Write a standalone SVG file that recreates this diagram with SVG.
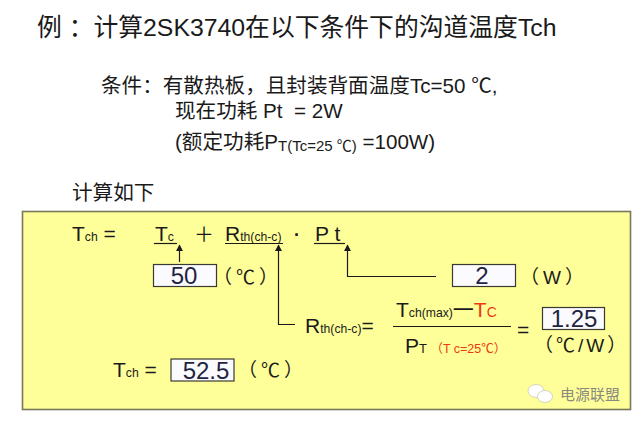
<svg xmlns="http://www.w3.org/2000/svg" width="640" height="422" viewBox="0 0 640 422">
<defs>
<style>
text{font-family:"Liberation Sans","Noto Sans CJK SC",sans-serif;fill:#1a1a1a;white-space:pre}
.t{font-size:24.8px}.c{font-size:20.6px}.f{font-size:21px}.s{font-size:12.2px}.n{font-size:24px;fill:#1f2440}.u{font-size:19px;letter-spacing:4px}
.r{fill:#ee3a12}
.box{fill:#fbfbff;stroke:#3a3a30;stroke-width:1.2}
.ln{fill:none;stroke:#1a1a1a;stroke-width:1.2}
</style>
<marker id="a" markerWidth="7" markerHeight="8" refX="6" refY="4" orient="auto" markerUnits="userSpaceOnUse"><path d="M0 0.5L6.5 4L0 7.5z" fill="#1a1a1a"/></marker>
</defs>
<rect width="640" height="422" fill="#fff"/>
<g id="title"><text class="t" x="37" y="36">例 ：计算2SK3740在以下条件下的沟道温度Tch</text></g>
<g id="conditions">
<text class="c" x="101" y="93">条件：有散热板，且封装背面温度Tc=50 ℃,</text>
<text class="c" x="175" y="117.500">现在功耗 Pt  = 2W</text>
<text class="c" x="175" y="149">(额定功耗P<tspan font-size="15" dy="2">T(Tc=25 ℃)</tspan><tspan dy="-2"> =100W)</tspan></text>
</g>
<g id="calc-heading"><text class="c" x="72" y="200">计算如下</text></g>
<g id="panel"><rect x="22.500" y="211.500" width="608" height="198" fill="#ffff99" stroke="#77775a" stroke-width="1.6"/></g>
<g id="formula-tch"><text class="f" x="72" y="240.500">T<tspan class="s">ch</tspan> =</text></g>
<g id="term-tc"><text class="f" x="155" y="240.500">T<tspan class="s">c</tspan></text></g>
<g id="plus"><text x="194" y="241.500" font-size="20">＋</text></g>
<g id="term-rth"><text class="f" x="225" y="240.500">R<tspan class="s">th(ch-c)</tspan></text></g>
<g id="dot"><text x="294" y="241" font-size="18" font-weight="bold">·</text></g>
<g id="term-pt"><text class="f" x="315" y="240.500">P t</text></g>
<g id="val-50"><rect class="box" x="153.500" y="264.500" width="63" height="22"/><text class="n" x="184" y="284" text-anchor="middle">50</text><text class="u" x="213" y="284">（℃）</text></g>
<g id="val-2"><rect class="box" x="452.500" y="264.500" width="63" height="22"/><text class="n" x="482" y="284" text-anchor="middle">2</text><text class="u" x="520" y="284">（W）</text></g>
<g id="rth-label"><text class="f" x="305" y="333">R<tspan class="s">th(ch-c)</tspan>=</text></g>
<g id="fraction">
<text class="f" x="396" y="317">T<tspan class="s">ch(max)</tspan>一<tspan class="r">T</tspan><tspan class="r" font-size="14">C</tspan></text>
<line class="ln" x1="393" y1="326.500" x2="511" y2="326.500"/>
<text class="f" x="405" y="353">P<tspan font-size="13">T</tspan><tspan class="r" font-size="12.500"> （T c=25℃）</tspan></text>
</g>
<g id="eq"><text class="f" x="517" y="337">=</text></g>
<g id="val-125"><rect class="box" x="542.500" y="307.500" width="62" height="22"/><text class="n" x="574" y="327" text-anchor="middle">1.25</text><text class="u" x="534" y="352" style="letter-spacing:3px">（℃/W）</text></g>
<g id="result"><text class="f" x="113" y="377">T<tspan class="s">ch</tspan> =</text><rect class="box" x="171" y="359" width="63" height="22"/><text class="n" x="206" y="379" text-anchor="middle">52.5</text><text class="u" x="238" y="377">（℃）</text></g>
<g id="connectors">
<line class="ln" x1="154" y1="243.500" x2="177" y2="243.500"/>
<line class="ln" x1="225" y1="243.500" x2="283" y2="243.500"/>
<line class="ln" x1="314" y1="243.500" x2="345" y2="243.500"/>
<path class="ln" d="M179.500 262V245" marker-end="url(#a)"/>
<path class="ln" d="M295 324.500H278.500V245" marker-end="url(#a)"/>
<path class="ln" d="M436 276.500H347.500V245" marker-end="url(#a)"/>
</g>
<g id="watermark">
<ellipse cx="536" cy="391" rx="8" ry="6.500" fill="#fff" stroke="#c8c8b8" stroke-width=".8"/>
<ellipse cx="545" cy="396.500" rx="7.500" ry="6" fill="#fff" stroke="#c8c8b8" stroke-width=".8"/>
<text x="560" y="400" font-size="15" style="fill:#8a8a80">电源联盟</text>
</g>
</svg>
